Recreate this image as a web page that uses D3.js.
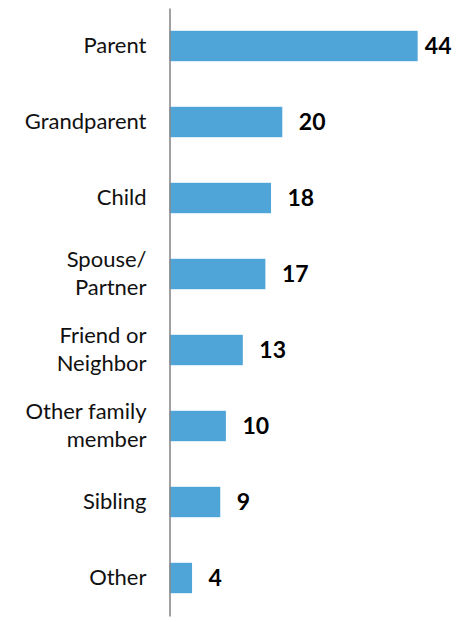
<!DOCTYPE html>
<html>
<head>
<meta charset="utf-8">
<script src="https://cdn.jsdelivr.net/npm/d3@7"></script>
<style>
html,body{margin:0;padding:0;background:#fff;}
svg{display:block;}
</style>
</head>
<body>
<script>
const categories = ["Parent","Grandparent","Child","Spouse/\nPartner","Friend or\nNeighbor","Other family\nmember","Sibling","Other"];
const values = [44,20,18,17,13,10,9,4];
const xDomainMax = 50;

const W = 465, H = 622;
const fontFamily = "Lato, 'Open Sans', sans-serif";
const svg = d3.select("body").append("svg").attr("width", W).attr("height", H);

const x = d3.scaleLinear().domain([0, xDomainMax]).range([169.5, 451.5]);
const y = d3.scaleBand().domain(categories).range([8, 616]).paddingInner(0.6).paddingOuter(0.3);

// bars
svg.append("g").selectAll("rect").data(values).join("rect")
  .attr("x", x(0))
  .attr("y", (d,i) => y(categories[i]))
  .attr("width", d => x(d) - x(0))
  .attr("height", y.bandwidth())
  .attr("fill", "#4FA5D8");

// axis
const axis = svg.append("g").attr("transform", `translate(${x(0)},0)`)
  .call(d3.axisLeft(y).tickSize(0).tickSizeOuter(0).tickPadding(23).tickFormat(""));
axis.select(".domain").attr("stroke", "#8a8a8a").attr("stroke-width", 1.6);

// category labels
const lineH = 28.5;
axis.selectAll(".tick").each(function(d) {
  const lines = d.split("\n");
  const t = d3.select(this).append("text")
    .attr("x", -23)
    .attr("text-anchor", "end")
    .attr("fill", "#111")
    .style("font-family", fontFamily)
    .style("font-size", "22px");
  lines.forEach((ln, k) => {
    t.append("tspan")
      .attr("x", -23)
      .attr("y", 7 + (k - (lines.length - 1) / 2) * lineH)
      .text(ln);
  });
});

// value labels
const rightEdge = x(xDomainMax);
svg.append("g").selectAll("text").data(values).join("text")
  .style("font-family", fontFamily)
  .style("font-size", "23px")
  .style("font-weight", "bold")
  .attr("fill", "#000")
  .attr("y", (d,i) => y(categories[i]) + y.bandwidth() / 2 + 8)
  .text(d => d)
  .attr("x", function(d) {
    const w = this.getComputedTextLength();
    return Math.min(x(d) + 16.5, rightEdge - w);
  });
</script>
</body>
</html>
